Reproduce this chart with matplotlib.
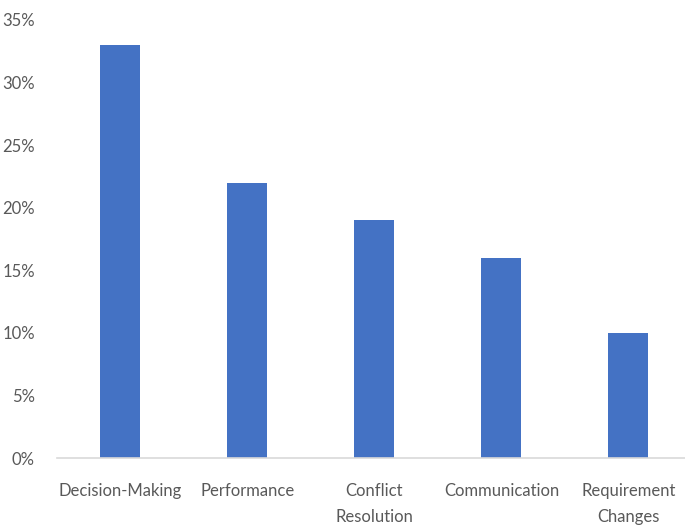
import matplotlib
matplotlib.use("Agg")
import matplotlib.pyplot as plt
from matplotlib.ticker import FuncFormatter

categories = ["Decision-Making", "Performance", "Conflict\nResolution", "Communication", "Requirement\nChanges"]
values = [33, 22, 19, 16, 10]
yticks = [0, 5, 10, 15, 20, 25, 30, 35]

plt.rcParams['font.family'] = ['Lato', 'DejaVu Sans']

fig = plt.figure(figsize=(6.85, 5.25), dpi=100)
ax = fig.add_axes([0.0832, 0.1276, 0.927, 0.8344])
x = list(range(len(categories)))
ax.bar(x, values, width=0.315, color="#4472C4", zorder=2)
ax.set_xlim(-0.5, len(categories) - 0.5)
ax.set_ylim(0, 35)
ax.set_yticks(yticks)
ax.yaxis.set_major_formatter(FuncFormatter(lambda v, p: f"{int(v)}%"))
ax.set_xticks(x)
ax.set_xticklabels(categories, linespacing=1.75)
for s in ["top", "right", "left"]:
    ax.spines[s].set_visible(False)
ax.spines["bottom"].set_color("#d9d9d9")
ax.spines["bottom"].set_linewidth(1.2)
ax.tick_params(axis="both", length=0, colors="#595959", labelsize=12)
ax.tick_params(axis="x", pad=18)
ax.tick_params(axis="y", pad=16)
fig.savefig("out.png", dpi=100)
